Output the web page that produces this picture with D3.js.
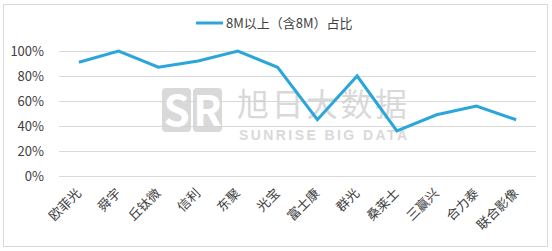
<!DOCTYPE html>
<html>
<head>
<meta charset="utf-8">
<script src="https://cdn.jsdelivr.net/npm/d3@7"></script>
<style>
  body { margin: 0; background: #fff; }
  text { font-family: "Microsoft YaHei", "Noto Sans CJK SC", sans-serif; }
</style>
</head>
<body>
<svg id="chart" width="552" height="251"></svg>
<script>
// data
const companies = ["欧菲光", "舜宇", "丘钛微", "信利", "东聚", "光宝", "富士康", "群光", "桑莱士", "三赢兴", "合力泰", "联合影像"]
const share = [0.91, 1.0, 0.87, 0.92, 1.0, 0.87, 0.45, 0.80, 0.36, 0.49, 0.56, 0.45]
const yTicks = [0, 0.2, 0.4, 0.6, 0.8, 1.0]
const seriesName = "8M以上（含8M）占比"

const svg = d3.select("#chart")
const plotLeft = 59, plotRight = 536, plotTop = 51, plotBottom = 176
const lineColor = "#2ba6da"

// outer frame
svg.append("rect")
	.attr("x", 3.5).attr("y", 4.5)
	.attr("width", 544).attr("height", 242)
	.attr("fill", "#fff")
	.attr("stroke", "#d9d9d9")

const x = d3.scaleBand().domain(companies).range([plotLeft, plotRight])
const y = d3.scaleLinear().domain([0, 1]).range([plotBottom, plotTop])

// gridlines + y labels
const yAxis = d3.axisLeft(y)
	.tickValues(yTicks)
	.tickSize(-(plotRight - plotLeft))
	.tickPadding(15)
	.tickFormat(d3.format(".0%"))
svg.append("g")
	.attr("transform", `translate(${plotLeft},0)`)
	.call(yAxis)
	.call(g => g.select(".domain").remove())
	.call(g => g.selectAll(".tick line").attr("stroke", "#d9d9d9"))
	.call(g => g.selectAll(".tick text")
		.attr("fill", "#404040")
		.style("font-size", "13px")
		.attr("font-family", "'Noto Sans', 'Open Sans', sans-serif"))

// watermark (logo blocks + text)
const wm = svg.append("g").attr("opacity", 0.85)
wm.append("rect").attr("x", 162).attr("y", 88).attr("width", 29).attr("height", 44).attr("rx", 4).attr("fill", "#d3d3d3")
wm.append("rect").attr("x", 193).attr("y", 88).attr("width", 29).attr("height", 44).attr("rx", 4).attr("fill", "#d3d3d3")
wm.append("text").attr("x", 176.5).attr("y", 126).attr("text-anchor", "middle")
	.attr("fill", "#fff").style("font-size", "42px").style("font-weight", "bold")
	.attr("font-family", "'DejaVu Sans', sans-serif").text("S")
wm.append("text").attr("x", 207.5).attr("y", 126).attr("text-anchor", "middle")
	.attr("fill", "#fff").style("font-size", "42px").style("font-weight", "bold")
	.attr("font-family", "'DejaVu Sans', sans-serif").text("R")
wm.append("text").attr("fill", "#d3d3d3")
	.attr("x", 237).attr("y", 116)
	.style("font-size", "32px")
	.attr("textLength", 170)
	.text("旭日大数据")
wm.append("text").attr("fill", "#d3d3d3")
	.attr("x", 239).attr("y", 140)
	.style("font-size", "14px").style("font-weight", "bold")
	.style("font-family", "'Liberation Sans', Arial, sans-serif")
	.attr("textLength", 168)
	.text("SUNRISE BIG DATA")

// series line
const line = d3.line()
	.x((d, i) => x(companies[i]) + x.bandwidth() / 2)
	.y(d => y(d))
svg.append("path")
	.datum(share)
	.attr("d", line)
	.attr("fill", "none")
	.attr("stroke", lineColor)
	.attr("stroke-width", 3)
	.attr("stroke-linejoin", "miter")

// rotated category labels
svg.append("g")
	.selectAll("text")
	.data(companies)
	.join("text")
	.attr("transform", d => `translate(${x(d) + x.bandwidth() / 2 + 3},194) rotate(-45)`)
	.attr("text-anchor", "end")
	.attr("fill", "#404040")
	.style("font-size", "13px")
	.text(d => d)

// legend
const legend = svg.append("g").attr("transform", "translate(196,23)")
legend.append("line")
	.attr("x1", 0).attr("x2", 27)
	.attr("stroke", lineColor).attr("stroke-width", 3)
legend.append("text")
	.attr("x", 30).attr("y", 5)
	.attr("fill", "#404040")
	.style("font-size", "13px")
	.text(seriesName)
</script>
</body>
</html>
